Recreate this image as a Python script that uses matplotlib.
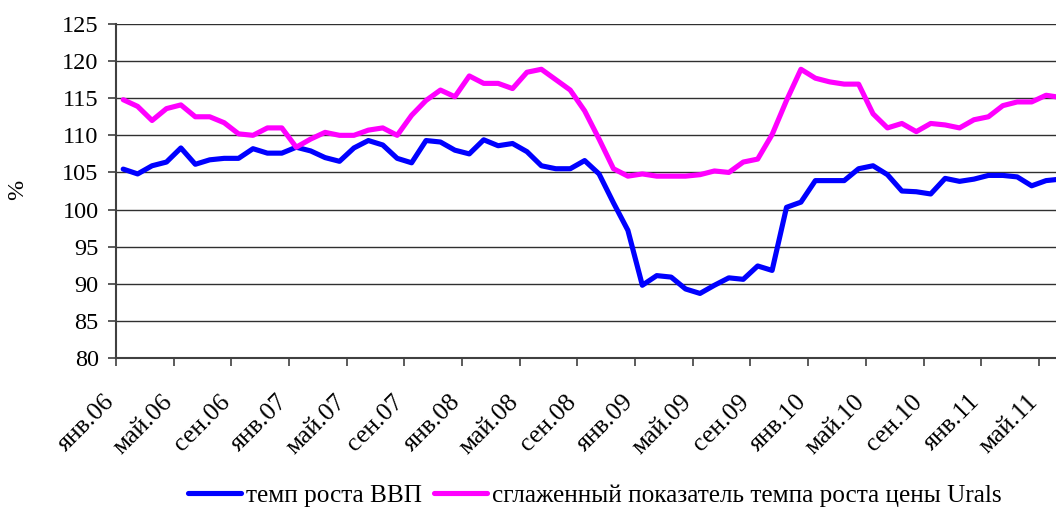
import matplotlib
matplotlib.use('Agg')
import matplotlib.pyplot as plt
from matplotlib.transforms import ScaledTranslation
import numpy as np

plt.rcParams['font.family'] = ['Liberation Serif', 'DejaVu Serif']

gdp = [105.45, 104.8, 105.9, 106.4, 108.3, 106.1, 106.7, 106.9, 106.9, 108.2,
       107.6, 107.6, 108.4, 107.9, 107.0, 106.5, 108.3, 109.3, 108.7, 106.9,
       106.3, 109.3, 109.1, 108.0, 107.5, 109.4, 108.6, 108.9, 107.8, 105.9,
       105.5, 105.5, 106.6, 104.8, 100.9, 97.2, 89.8, 91.1, 90.9, 89.3,
       88.7, 89.8, 90.8, 90.6, 92.4, 91.8, 100.3, 101.0, 103.9, 103.9,
       103.9, 105.5, 105.9, 104.7, 102.5, 102.4, 102.1, 104.2, 103.8, 104.1,
       104.6, 104.6, 104.4, 103.2, 103.9, 104.1]

urals = [114.8, 113.9, 112.0, 113.6, 114.1, 112.5, 112.5, 111.7, 110.2, 110.0,
         111.0, 111.0, 108.4, 109.5, 110.4, 110.0, 110.0, 110.7, 111.0, 110.0,
         112.7, 114.7, 116.1, 115.2, 118.0, 117.0, 117.0, 116.3, 118.5, 118.9,
         117.5, 116.1, 113.3, 109.5, 105.5, 104.5, 104.8, 104.5, 104.5, 104.5,
         104.7, 105.2, 105.0, 106.4, 106.8, 110.1, 114.7, 118.9, 117.7, 117.2,
         116.9, 116.9, 112.9, 111.0, 111.6, 110.5, 111.6, 111.4, 111.0, 112.1,
         112.5, 114.0, 114.5, 114.5, 115.4, 115.1]

tick_labels = ['янв.06', 'май.06', 'сен.06', 'янв.07', 'май.07', 'сен.07',
               'янв.08', 'май.08', 'сен.08', 'янв.09', 'май.09', 'сен.09',
               'янв.10', 'май.10', 'сен.10', 'янв.11', 'май.11']

series_names = ['темп роста ВВП', 'сглаженный показатель темпа роста цены Urals']
y_ticks = [80, 85, 90, 95, 100, 105, 110, 115, 120, 125]

W, H = 1056, 511
fig = plt.figure(figsize=(W / 100, H / 100), dpi=100)
ax = fig.add_axes([116 / W, (H - 358) / H, (1067.7 - 116) / W, 334 / H])

x = np.arange(len(gdp))
l1, = ax.plot(x, gdp, color='#0000FF', lw=3.7, solid_joinstyle='round',
              solid_capstyle='round', label=series_names[0], zorder=3)
l2, = ax.plot(x, urals, color='#FF00FF', lw=3.7, solid_joinstyle='round',
              solid_capstyle='round', label=series_names[1], zorder=3)

ax.set_xlim(-0.5, len(gdp) - 0.5)
ax.set_ylim(y_ticks[0], y_ticks[-1])
ax.set_yticks(y_ticks)
ax.set_yticklabels([str(v) for v in y_ticks])
ax.yaxis.grid(True, color='#303030', lw=1.0)
ax.set_axisbelow(True)

ax.set_xticks(np.arange(0, len(gdp), 4))
ax.set_xticklabels(tick_labels)
ax.set_xticks(np.arange(-0.5, len(gdp) - 0.5, 4), minor=True)
ax.tick_params(axis='x', which='major', length=0, pad=29, labelsize=18.5)
ax.tick_params(axis='x', which='minor', length=5.5, width=1.2, direction='out', color='#404040')
ax.tick_params(axis='y', which='major', length=5.5, width=1.2, direction='out', color='#404040',
               labelsize=17.5, pad=7)

off = ScaledTranslation(-12 / 100, 0, fig.dpi_scale_trans)
for lbl in ax.get_xticklabels():
    lbl.set_rotation(45)
    lbl.set_ha('right')
    lbl.set_va('center')
    lbl.set_rotation_mode('anchor')
    lbl.set_transform(lbl.get_transform() + off)

for s in ['top', 'right']:
    ax.spines[s].set_visible(False)
for s in ['left', 'bottom']:
    ax.spines[s].set_color('#404040')
    ax.spines[s].set_linewidth(1.5)

fig.text(18 / W, 1 - 190 / H, '%', rotation=90, ha='center', va='center', fontsize=17.5)

fig.legend(handles=[l1, l2], loc='center', bbox_to_anchor=(595 / W, 1 - 496 / H),
           ncol=2, frameon=False, fontsize=18.2, handlelength=2.1, handletextpad=0.2,
           columnspacing=0.45, borderpad=0, borderaxespad=0)

fig.savefig('out.png', dpi=100)
